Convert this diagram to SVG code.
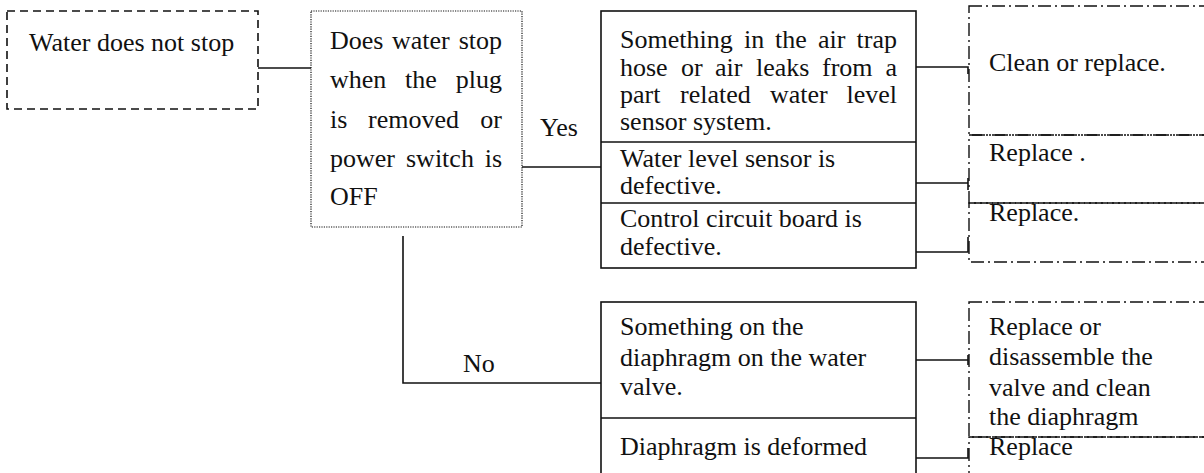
<svg xmlns="http://www.w3.org/2000/svg" width="1204" height="473" viewBox="0 0 1204 473">
<style>
  text { font-family: "Liberation Serif", "Times New Roman", serif; font-size: 26px; fill: #111; }
  .end { text-anchor: end; }
  .solid { fill: none; stroke: #111; stroke-width: 1.6; }
  .dashed { fill: none; stroke: #111; stroke-width: 1.6; stroke-dasharray: 8 5; }
  .dotted { fill: none; stroke: #111; stroke-width: 1.2; stroke-dasharray: 1.2 1.2; }
  .dashdot { fill: none; stroke: #111; stroke-width: 1.4; stroke-dasharray: 13 4 2 4; }
  .conn { fill: none; stroke: #111; stroke-width: 1.6; }
</style>
<rect width="1204" height="473" fill="#fff"/>

<g id="start">
  <rect class="dashed" x="7" y="11" width="251" height="98"/>
  <text x="29" y="51">Water does not stop</text>
</g>

<g id="question">
  <rect class="dotted" x="311" y="11" width="211" height="216"/>
  <text y="49"><tspan x="330">Does</tspan><tspan x="392">water</tspan></text><text class="end" x="502" y="49">stop</text>
  <text y="88"><tspan x="330">when</tspan><tspan x="405">the</tspan></text><text class="end" x="502" y="88">plug</text>
  <text y="128"><tspan x="330">is</tspan><tspan x="368">removed</tspan></text><text class="end" x="502" y="128">or</text>
  <text y="167"><tspan x="330">power</tspan><tspan x="406">switch</tspan></text><text class="end" x="502" y="167">is</text>
  <text x="330" y="205">OFF</text>
</g>

<g id="yes-causes">
  <rect class="solid" x="601" y="11" width="315" height="257"/>
  <line class="solid" x1="601" y1="142" x2="916" y2="142"/>
  <line class="solid" x1="601" y1="203" x2="916" y2="203"/>
  <text y="48"><tspan x="620">Something</tspan><tspan x="744">in</tspan><tspan x="775">the</tspan><tspan x="818">air</tspan></text><text class="end" x="897" y="48">trap</text>
  <text y="76"><tspan x="620">hose</tspan><tspan x="681">or</tspan><tspan x="715">air</tspan><tspan x="756">leaks</tspan><tspan x="822">from</tspan></text><text class="end" x="897" y="76">a</text>
  <text y="103"><tspan x="620">part</tspan><tspan x="680">related</tspan><tspan x="770">water</tspan></text><text class="end" x="897" y="103">level</text>
  <text x="620" y="130">sensor system.</text>
  <text x="620" y="167">Water level sensor is</text>
  <text x="620" y="194">defective.</text>
  <text x="620" y="227">Control circuit board is</text>
  <text x="620" y="255">defective.</text>
</g>

<g id="yes-remedies">
  <rect class="dashdot" x="969" y="6" width="300" height="129"/>
  <rect class="dashdot" x="969" y="135" width="300" height="68"/>
  <rect class="dashdot" x="969" y="203" width="300" height="59"/>
  <text x="989" y="71">Clean or replace.</text>
  <text x="989" y="161">Replace .</text>
  <text x="989" y="221">Replace.</text>
</g>

<g id="no-causes">
  <rect class="solid" x="601" y="302" width="315" height="200"/>
  <line class="solid" x1="601" y1="418" x2="916" y2="418"/>
  <text x="620" y="335">Something on the</text>
  <text x="620" y="366">diaphragm on the water</text>
  <text x="620" y="395">valve.</text>
  <text x="620" y="455">Diaphragm is deformed</text>
</g>

<g id="no-remedies">
  <rect class="dashdot" x="969" y="302" width="300" height="135"/>
  <rect class="dashdot" x="969" y="437" width="300" height="80"/>
  <text x="989" y="335">Replace or</text>
  <text x="989" y="365">disassemble the</text>
  <text x="989" y="396">valve and clean</text>
  <text x="989" y="425">the diaphragm</text>
  <text x="989" y="455">Replace</text>
</g>

<g id="connectors">
  <line class="conn" x1="258" y1="68" x2="311" y2="68"/>
  <line class="conn" x1="522" y1="167" x2="601" y2="167"/>
  <polyline class="conn" points="403,236 403,383 601,383"/>
  <polyline class="conn" points="916,67 968,67 968,74"/>
  <polyline class="conn" points="916,183 968,183"/>
  <line class="conn" x1="968" y1="178" x2="968" y2="190"/>
  <polyline class="conn" points="916,252 968,252 968,237"/>
  <polyline class="conn" points="916,360 968,360"/>
  <line class="conn" x1="968" y1="355" x2="968" y2="365"/>
  <polyline class="conn" points="916,458 968,458 968,448"/>
  <text x="540" y="136">Yes</text>
  <text x="463" y="372">No</text>
</g>
</svg>
